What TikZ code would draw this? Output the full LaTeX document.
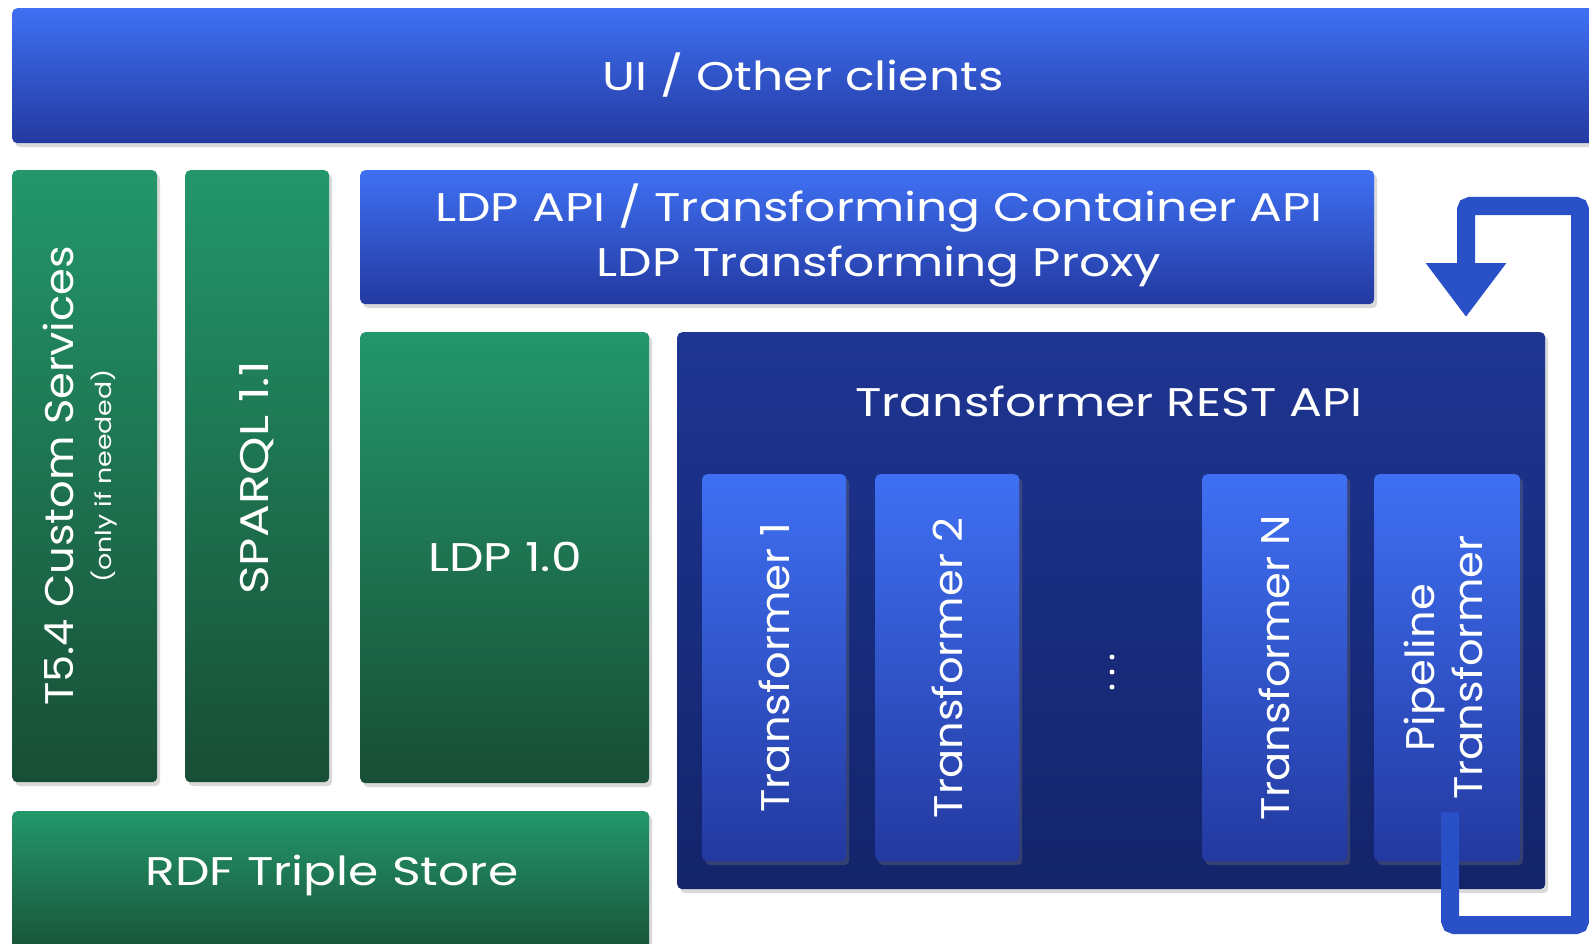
\documentclass[tikz,border=0pt]{standalone}
\usepackage{fontspec}
\setmainfont{Poppins}
\newfontfamily\widefont{Poppins}[FakeStretch=1.22]
\newfontfamily\sidefont{Poppins}[FakeStretch=1.08]
\usetikzlibrary{shadows,arrows.meta,calc}

\definecolor{bluetop}{HTML}{3F70F3}
\definecolor{bluebot}{HTML}{2339A0}
\definecolor{darktop}{HTML}{1E3592}
\definecolor{darkbot}{HTML}{13246A}
\definecolor{greentop}{HTML}{23976B}
\definecolor{greenbot}{HTML}{184E36}
\definecolor{loopblue}{HTML}{2A50C8}

\tikzset{
    layer/.style={anchor=north west, rounded corners=5pt, inner sep=0pt, text=white,
        drop shadow={shadow xshift=3pt, shadow yshift=-4pt, opacity=0.3}},
    bluebox/.style={layer, top color=bluetop, bottom color=bluebot},
    darkbox/.style={layer, top color=darktop, bottom color=darkbot},
    greenbox/.style={layer, top color=greentop, bottom color=greenbot},
    label/.style={text=white, inner sep=0pt, align=center, font=\fontsize{40}{55}\widefont},
    sidelabel/.style={label, rotate=90, font=\fontsize{40}{48}\sidefont},
    small/.style={label, font=\fontsize{22}{26}\widefont},
    loop/.style={loopblue, line width=18pt, rounded corners=4pt,
        -{Triangle[width=77pt,length=54pt]}}
}

\begin{document}
\begin{tikzpicture}[x=1pt, y=-1pt]
    \useasboundingbox (0,0) rectangle (1589,944);

    % top bar
    \node[bluebox, minimum width=1600pt, minimum height=135pt] (ui) at (12,8) {};
    \node[label] (uitext) at (803,75) {UI / Other clients};

    % storage side
    \node[greenbox, minimum width=145pt, minimum height=612pt] (custom) at (12,170) {};
    \node[greenbox, minimum width=144pt, minimum height=612pt] (sparql) at (185,170) {};
    \node[greenbox, minimum width=289pt, minimum height=451pt] (ldp) at (360,332) {};
    \node[greenbox, minimum width=637pt, minimum height=150pt] (store) at (12,811) {};
    \node[sidelabel] (customtext) at (58,476) {T5.4 Custom Services};
    \node[small, rotate=90] (customnote) at (104,476) {(only if needed)};
    \node[label, rotate=90] (sparqltext) at (257,478) {SPARQL 1.1};
    \node[label] (ldptext) at (505,557) {LDP 1.0};
    \node[label] (storetext) at (332,875) {RDF Triple Store};

    % proxy and transformers
    \node[bluebox, minimum width=1014pt, minimum height=134pt] (ldpapi) at (360,170) {};
    \node[label] (ldpapitext) at (879,236) {LDP API / Transforming Container API\\LDP Transforming Proxy};
    \node[darkbox, minimum width=868pt, minimum height=557pt] (rest) at (677,332) {};
    \node[label] (resttext) at (1109,401) {Transformer REST API};
    \node[bluebox, minimum width=144pt, minimum height=387pt] (tone) at (702,474) {};
    \node[bluebox, minimum width=144pt, minimum height=387pt] (ttwo) at (875,474) {};
    \node[bluebox, minimum width=145pt, minimum height=387pt] (tn) at (1202,474) {};
    \node[bluebox, minimum width=146pt, minimum height=387pt] (pipe) at (1374,474) {};
    \node[sidelabel] (tonetext) at (tone.center) {Transformer 1};
    \node[sidelabel] (ttwotext) at (ttwo.center) {Transformer 2};
    \node[sidelabel] (tntext) at (tn.center) {Transformer N};
    \node[sidelabel] (pipetext) at ($(pipe.center)+(-4,0)$) {Pipeline\\Transformer};
    \foreach \y in {657,672,687}
        \fill[white] (1112,\y) circle (2.5pt);

    % feedback loop
    \coordinate (loopin) at ($(pipe.south)+(3,-49)$);
    \coordinate (loopout) at (1466,317);
    \draw[loop] (loopin) |- (1580,925) |- (1466,206) -- (loopout);
\end{tikzpicture}
\end{document}
